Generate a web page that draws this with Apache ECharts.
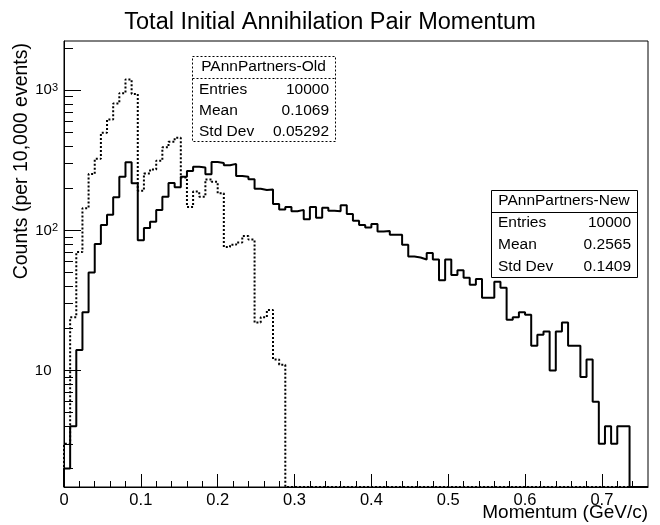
<!DOCTYPE html>
<html><head><meta charset="utf-8">
<script src="https://cdn.jsdelivr.net/npm/echarts@6/dist/echarts.min.js"></script>
<style>html,body{margin:0;padding:0;background:#fff}#c{width:660px;height:525px}</style>
</head><body><div id="c"></div>
<script>
// ---- data (bin width 0.008 GeV/c, bins start at 0) ----
const binWidth = 0.008;
const newCounts = [
  2,4,14,26,50,80,109,129,172,241,
  306,217,85,104,115,140,174,218,203,241,
  265,284,281,251,307,303,291,298,244,241,
  232,198,194,196,154,141,147,137,140,120,
  147,123,145,138,137,151,131,117,109,105,
  111,98,99,93,93,79,65,64,62,69,
  62,44,62,48,52,46,41,45,33,33,
  43,39,23,24,26,25,15,18,19,10,
  19,22,15,15,9,12,6,3,4,3,
  4,4,0,0,0
];
const oldCounts = [
  3,24,70,144,252,324,497,619,805,953,
  1194,940,192,255,272,314,391,428,458,238,
  147,189,174,231,222,184,76,79,82,91,
  86,22,24,27,12,11,0,0,0,0,
  0,0,0,0,0,0,0,0,0,0,
  0,0,0,0,0,0,0,0,0,0,
  0,0,0,0,0,0,0,0,0,0,
  0,0,0,0,0,0,0,0,0,0,
  0,0,0,0,0,0,0,0,0,0,
  0,0,0,0,0
];
const xMajorTicks = [0,0.1,0.2,0.3,0.4,0.5,0.6,0.7];
const xMinorTicks = [0.02,0.04,0.06,0.08,0.12,0.14,0.16,0.18,0.22,0.24,0.26,0.28,0.32,0.34,0.36,0.38,
  0.42,0.44,0.46,0.48,0.52,0.54,0.56,0.58,0.62,0.64,0.66,0.68,0.72,0.74];
const yMajorTicks = [10,100,1000];
const yMinorTicks = [2,3,4,5,6,7,8,9,20,30,40,50,60,70,80,90,200,300,400,500,600,700,800,900,2000];
const oldStatsLabels = ['Entries','Mean','Std Dev'];
const oldStatsValues = ['10000','0.1069','0.05292'];
const newStatsLabels = ['Entries','Mean','Std Dev'];
const newStatsValues = ['10000','0.2565','0.1409'];
const oldName = 'PAnnPartners-Old';
const newName = 'PAnnPartners-New';
const titleText = 'Total Initial Annihilation Pair Momentum';
const xTitle = 'Momentum (GeV/c)';
const yTitle = 'Counts (per 10,000 events)';
const xMax = 0.76, yMin = 1.476, yMax = 2244;

// ---- build ----
const FONT = '"Liberation Sans", Arial, Helvetica, sans-serif';
function histPoints(counts) {
  const pts = [[0, yMin]];
  counts.forEach((c, i) => pts.push([+(i * binWidth).toFixed(4), Math.max(c, yMin)]));
  pts.push([+(counts.length * binWidth).toFixed(4), Math.max(counts[counts.length - 1], yMin)]);
  return pts;
}
function statsBox(x, y, w, h, sep, name, labels, values, rowsY, headY, dashed) {
  const ls = dashed ? [2, 2] : null;
  const els = [
    {type:'rect', shape:{x:x+0.5, y:y+0.5, width:w, height:h}, style:{fill:'#fff', stroke:'#000', lineWidth:1, lineDash:ls}, z:10},
    {type:'line', shape:{x1:x+0.5, y1:sep+0.5, x2:x+w+0.5, y2:sep+0.5}, style:{stroke:'#000', lineWidth:1, lineDash:ls}, z:10},
    {type:'text', x:x + w/2, y:headY, style:{text:name, align:'center', verticalAlign:'middle', fontSize:15.5, fontFamily:FONT, fill:'#000'}, z:11}
  ];
  labels.forEach((l, i) => {
    els.push({type:'text', x:x + 7, y:rowsY[i], style:{text:l, align:'left', verticalAlign:'middle', fontSize:15.5, fontFamily:FONT, fill:'#000'}, z:11});
    els.push({type:'text', x:x + w - 6, y:rowsY[i], style:{text:values[i], align:'right', verticalAlign:'middle', fontSize:15.5, fontFamily:FONT, fill:'#000'}, z:11});
  });
  return els;
}

const chart = echarts.init(document.getElementById('c'), null, {renderer:'canvas'});
const option = {
  animation: false,
  backgroundColor: '#fff',
  title: {text: titleText, left: 'center', top: 6, textStyle: {fontSize: 23.5, fontWeight: 'normal', color: '#000', fontFamily: FONT}},
  grid: {left: 64, right: 12, top: 41, bottom: 38, show: true, borderColor: '#000', borderWidth: 1, containLabel: false, outerBoundsMode: 'none'},
  xAxis: [
    {type:'value', min:0, max:xMax, position:'bottom',
     axisLine:{show:true, onZero:false, lineStyle:{color:'#000', width:1}},
     axisTick:{show:true, inside:true, length:13, customValues:xMajorTicks, lineStyle:{color:'#000'}},
     axisLabel:{show:true, customValues:xMajorTicks, margin:5, fontSize:16.5, color:'#000', fontFamily:FONT,
       formatter: v => String(+v.toFixed(2))},
     splitLine:{show:false}},
    {type:'value', min:0, max:xMax, position:'bottom',
     axisLine:{show:false}, axisLabel:{show:false}, splitLine:{show:false},
     axisTick:{show:true, inside:true, length:6, customValues:xMinorTicks, lineStyle:{color:'#000'}}}
  ],
  yAxis: [
    {type:'log', logBase:10, min:yMin, max:yMax, position:'left',
     axisLine:{show:true, onZero:false, lineStyle:{color:'#000', width:1}},
     axisTick:{show:true, inside:true, length:17, customValues:yMajorTicks, lineStyle:{color:'#000'}},
     axisLabel:{show:true, customValues:yMajorTicks, margin:6, color:'#000', fontFamily:FONT,
       formatter: v => {
         const p = Math.round(Math.log10(v));
         return p === 1 ? '{b|10}{p| }' : '{b|10}{s|' + p + '}';
       },
       rich:{
         b:{fontSize:15, lineHeight:16, fontFamily:FONT, color:'#000'},
         s:{fontSize:11, lineHeight:11, verticalAlign:'top', fontFamily:FONT, color:'#000'},
         p:{fontSize:11, width:6.5, lineHeight:11}
       }},
     splitLine:{show:false}},
    {type:'log', logBase:10, min:yMin, max:yMax, position:'left',
     axisLine:{show:false}, axisLabel:{show:false}, splitLine:{show:false},
     axisTick:{show:true, inside:true, length:9, customValues:yMinorTicks, lineStyle:{color:'#000'}}}
  ],
  series: [
    {name:oldName, type:'line', step:'end', xAxisIndex:0, yAxisIndex:0, showSymbol:false, symbol:'none',
     data: histPoints(oldCounts), lineStyle:{color:'#000', width:2, type:[2,2], cap:'butt'}, z:3},
    {name:newName, type:'line', step:'end', xAxisIndex:0, yAxisIndex:0, showSymbol:false, symbol:'none',
     data: histPoints(newCounts), lineStyle:{color:'#000', width:2, type:'solid'}, z:4}
  ],
  graphic: {elements: [].concat(
    statsBox(192, 56, 143, 85, 78, oldName, oldStatsLabels, oldStatsValues, [89.5, 111, 131.5], 67, true),
    statsBox(491, 190, 146, 87, 212, newName, newStatsLabels, newStatsValues, [222.8, 244.8, 266.7], 200.8, false),
    [
      {type:'text', x:648, y:513, style:{text:xTitle, align:'right', verticalAlign:'middle', fontSize:19, fontFamily:FONT, fill:'#000'}},
      {type:'text', x:22, y:43, rotation:Math.PI/2, style:{text:yTitle, align:'right', verticalAlign:'middle', fontSize:19.5, fontFamily:FONT, fill:'#000'}}
    ]
  )}
};
chart.setOption(option);
</script>
</body></html>
